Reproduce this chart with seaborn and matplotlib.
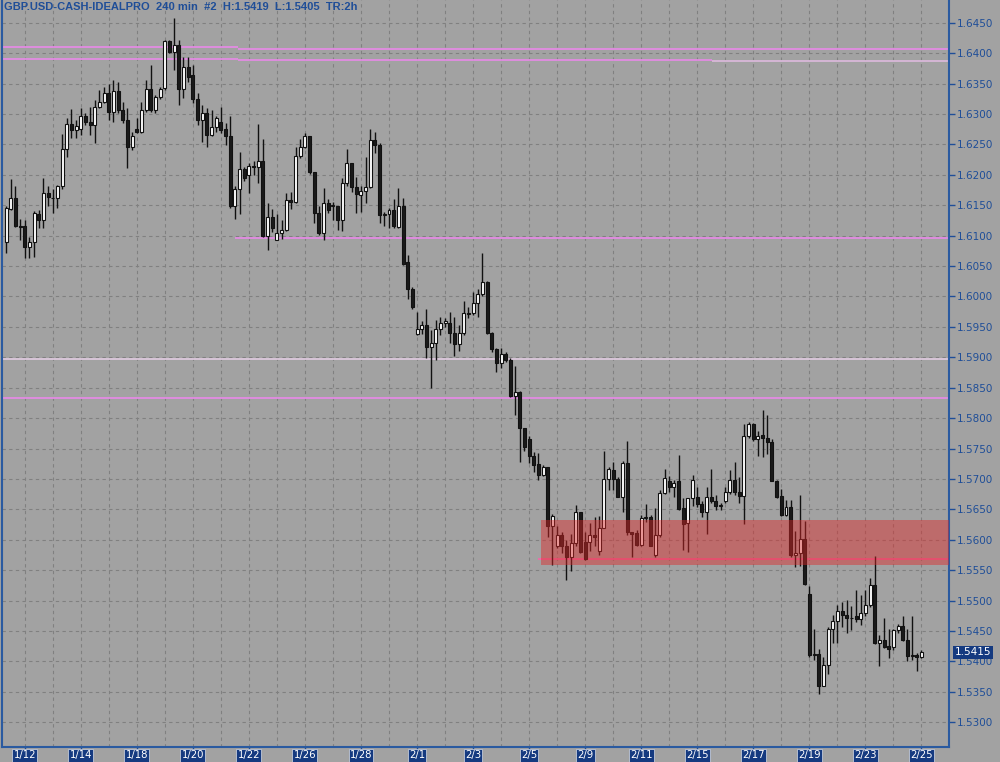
import matplotlib
matplotlib.use("Agg")
import matplotlib.pyplot as plt
import seaborn as sns
import numpy as np
import pandas as pd

# ---------------- data ----------------
opens = [1.6090,1.6144,1.6161,1.6116,1.6115,1.6082,1.6090,1.6136,1.6126,1.6170,
         1.6162,1.6161,1.6181,1.6242,1.6283,1.6274,1.6275,1.6297,1.6287,1.6281,
         1.6312,1.6320,1.6334,1.6304,1.6337,1.6307,1.6290,1.6245,1.6276,1.6271,
         1.6307,1.6341,1.6307,1.6328,1.6342,1.6420,1.6401,1.6414,1.6341,1.6377,
         1.6364,1.6324,1.6290,1.6301,1.6265,1.6278,1.6287,1.6275,1.6264,1.6149,
         1.6176,1.6209,1.6200,1.6214,1.6212,1.6223,1.6100,1.6131,1.6093,1.6104,
         1.6109,1.6158,1.6156,1.6231,1.6246,1.6264,1.6205,1.6137,1.6105,1.6153,
         1.6148,1.6148,1.6125,1.6186,1.6219,1.6180,1.6167,1.6173,1.6180,1.6257,
         1.6249,1.6134,1.6136,1.6142,1.6114,1.6148,1.6056,1.6012,1.5939,1.5946,
         1.5953,1.5917,1.5923,1.5946,1.5956,1.5956,1.5940,1.5922,1.5940,1.5972,
         1.5972,1.5990,1.6004,1.6024,1.5940,1.5913,1.5891,1.5905,1.5896,1.5836,
         1.5843,1.5783,1.5765,1.5737,1.5724,1.5707,1.5719,1.5623,1.5590,1.5608,
         1.5590,1.5572,1.5595,1.5645,1.5597,1.5597,1.5608,1.5582,1.5620,1.5700,
         1.5715,1.5700,1.5671,1.5726,1.5612,1.5611,1.5591,1.5635,1.5638,1.5575,
         1.5608,1.5677,1.5696,1.5686,1.5696,1.5652,1.5627,1.5668,1.5670,1.5659,
         1.5645,1.5670,1.5663,1.5656,1.5663,1.5679,1.5699,1.5679,1.5672,1.5771,
         1.5791,1.5765,1.5772,1.5768,1.5761,1.5697,1.5672,1.5641,1.5654,1.5575,
         1.5579,1.5601,1.5511,1.5411,1.5413,1.5360,1.5394,1.5453,1.5466,1.5483,
         1.5476,1.5471,1.5474,1.5469,1.5480,1.5493,1.5526,1.5430,1.5436,1.5425,
         1.5423,1.5451,1.5458,1.5435,1.5409,1.5411,1.5407]
highs = [1.6148,1.6193,1.6181,1.6127,1.6126,1.6098,1.6140,1.6142,1.6194,1.6181,
         1.6176,1.6183,1.6267,1.6293,1.6308,1.6290,1.6309,1.6301,1.6312,1.6323,
         1.6339,1.6344,1.6350,1.6356,1.6353,1.6320,1.6309,1.6271,1.6293,1.6319,
         1.6355,1.6381,1.6331,1.6344,1.6422,1.6422,1.6457,1.6422,1.6394,1.6394,
         1.6381,1.6334,1.6315,1.6309,1.6307,1.6296,1.6312,1.6285,1.6296,1.6181,
         1.6238,1.6213,1.6219,1.6222,1.6283,1.6258,1.6153,1.6143,1.6136,1.6125,
         1.6170,1.6172,1.6246,1.6258,1.6268,1.6264,1.6205,1.6148,1.6178,1.6160,
         1.6156,1.6149,1.6194,1.6243,1.6219,1.6197,1.6182,1.6230,1.6275,1.6271,
         1.6252,1.6139,1.6145,1.6160,1.6179,1.6161,1.6068,1.6016,1.5975,1.5960,
         1.5979,1.5945,1.5961,1.5966,1.5964,1.5974,1.5966,1.5953,1.5993,1.5983,
         1.6008,1.6013,1.6071,1.6026,1.5942,1.5916,1.5916,1.5908,1.5898,1.5886,
         1.5845,1.5783,1.5770,1.5745,1.5743,1.5723,1.5720,1.5643,1.5622,1.5612,
         1.5600,1.5610,1.5657,1.5645,1.5612,1.5628,1.5638,1.5639,1.5746,1.5720,
         1.5728,1.5703,1.5730,1.5763,1.5613,1.5616,1.5641,1.5659,1.5641,1.5653,
         1.5682,1.5716,1.5705,1.5699,1.5739,1.5668,1.5668,1.5707,1.5686,1.5663,
         1.5687,1.5717,1.5674,1.5661,1.5687,1.5714,1.5728,1.5703,1.5791,1.5794,
         1.5792,1.5779,1.5814,1.5805,1.5765,1.5698,1.5683,1.5665,1.5665,1.5615,
         1.5674,1.5631,1.5524,1.5454,1.5421,1.5408,1.5456,1.5476,1.5493,1.5497,
         1.5501,1.5491,1.5518,1.5509,1.5517,1.5537,1.5573,1.5443,1.5472,1.5453,
         1.5454,1.5462,1.5475,1.5453,1.5474,1.5414,1.5419]
lows = [1.6071,1.6142,1.6114,1.6093,1.6063,1.6063,1.6065,1.6112,1.6112,1.6148,
        1.6137,1.6146,1.6176,1.6230,1.6260,1.6260,1.6265,1.6282,1.6265,1.6252,
        1.6309,1.6318,1.6290,1.6287,1.6301,1.6285,1.6211,1.6241,1.6268,1.6268,
        1.6304,1.6304,1.6301,1.6324,1.6339,1.6400,1.6372,1.6315,1.6326,1.6353,
        1.6318,1.6282,1.6254,1.6245,1.6263,1.6271,1.6269,1.6249,1.6145,1.6127,
        1.6136,1.6189,1.6170,1.6200,1.6186,1.6098,1.6077,1.6106,1.6092,1.6095,
        1.6108,1.6143,1.6153,1.6227,1.6244,1.6202,1.6120,1.6101,1.6093,1.6137,
        1.6126,1.6110,1.6108,1.6182,1.6172,1.6137,1.6138,1.6154,1.6178,1.6236,
        1.6121,1.6115,1.6112,1.6112,1.6112,1.6052,1.5995,1.5979,1.5937,1.5939,
        1.5898,1.5849,1.5895,1.5937,1.5949,1.5923,1.5902,1.5911,1.5937,1.5964,
        1.5970,1.5967,1.6001,1.5939,1.5909,1.5876,1.5882,1.5893,1.5835,1.5805,
        1.5728,1.5746,1.5727,1.5712,1.5698,1.5704,1.5605,1.5558,1.5586,1.5578,
        1.5534,1.5548,1.5589,1.5579,1.5567,1.5582,1.5589,1.5575,1.5619,1.5682,
        1.5682,1.5670,1.5646,1.5608,1.5572,1.5589,1.5589,1.5630,1.5589,1.5572,
        1.5605,1.5675,1.5679,1.5671,1.5649,1.5583,1.5580,1.5655,1.5654,1.5638,
        1.5610,1.5661,1.5649,1.5649,1.5660,1.5676,1.5674,1.5660,1.5626,1.5768,
        1.5763,1.5737,1.5736,1.5741,1.5696,1.5668,1.5639,1.5639,1.5572,1.5556,
        1.5557,1.5526,1.5408,1.5403,1.5346,1.5359,1.5380,1.5430,1.5431,1.5456,
        1.5447,1.5452,1.5465,1.5460,1.5475,1.5490,1.5429,1.5393,1.5422,1.5405,
        1.5419,1.5446,1.5434,1.5401,1.5402,1.5385,1.5405]
closes = [1.6145,1.6161,1.6116,1.6114,1.6082,1.6090,1.6137,1.6126,1.6170,1.6163,
          1.6161,1.6181,1.6242,1.6283,1.6274,1.6280,1.6297,1.6287,1.6281,1.6312,
          1.6320,1.6335,1.6304,1.6337,1.6307,1.6290,1.6245,1.6264,1.6271,1.6307,
          1.6341,1.6307,1.6328,1.6341,1.6420,1.6401,1.6414,1.6341,1.6377,1.6361,
          1.6324,1.6290,1.6301,1.6265,1.6278,1.6293,1.6274,1.6264,1.6149,1.6176,
          1.6209,1.6195,1.6214,1.6213,1.6223,1.6100,1.6131,1.6112,1.6104,1.6109,
          1.6158,1.6156,1.6231,1.6246,1.6264,1.6205,1.6137,1.6105,1.6153,1.6142,
          1.6150,1.6125,1.6186,1.6219,1.6180,1.6168,1.6173,1.6180,1.6257,1.6249,
          1.6134,1.6136,1.6142,1.6115,1.6148,1.6054,1.6012,1.5983,1.5947,1.5953,
          1.5917,1.5924,1.5947,1.5956,1.5959,1.5940,1.5922,1.5940,1.5972,1.5971,
          1.5990,1.6004,1.6024,1.5940,1.5913,1.5891,1.5905,1.5896,1.5836,1.5843,
          1.5783,1.5753,1.5737,1.5723,1.5707,1.5719,1.5623,1.5639,1.5608,1.5590,
          1.5572,1.5595,1.5645,1.5580,1.5568,1.5608,1.5605,1.5620,1.5700,1.5717,
          1.5700,1.5671,1.5726,1.5612,1.5609,1.5591,1.5635,1.5638,1.5590,1.5608,
          1.5677,1.5701,1.5686,1.5694,1.5650,1.5626,1.5668,1.5699,1.5659,1.5645,
          1.5671,1.5663,1.5656,1.5657,1.5679,1.5699,1.5679,1.5672,1.5771,1.5791,
          1.5765,1.5771,1.5768,1.5761,1.5697,1.5671,1.5641,1.5654,1.5575,1.5579,
          1.5601,1.5527,1.5411,1.5412,1.5360,1.5394,1.5453,1.5466,1.5483,1.5476,
          1.5471,1.5472,1.5469,1.5480,1.5493,1.5526,1.5430,1.5436,1.5424,1.5420,
          1.5451,1.5458,1.5435,1.5409,1.5410,1.5407,1.5415]

date_labels = ["1/12", "1/14", "1/18", "1/20", "1/22", "1/26", "1/28", "2/1", "2/3",
               "2/5", "2/9", "2/11", "2/15", "2/17", "2/19", "2/23", "2/25"]
price_ticks = [1.5300, 1.5350, 1.5400, 1.5450, 1.5500, 1.5550, 1.5600, 1.5650,
               1.5700, 1.5750, 1.5800, 1.5850, 1.5900, 1.5950, 1.6000, 1.6050,
               1.6100, 1.6150, 1.6200, 1.6250, 1.6300, 1.6350, 1.6400, 1.6450]

# horizontal level lines: (price, start bar, end bar)
level_prices = [1.6410, 1.6407, 1.6406, 1.6391, 1.6389, 1.6387, 1.6096, 1.5897, 1.5833, 1.5569]
level_starts = [-1, 49.7, 151.2, -1, 49.7, 151.2, 49, -1, -1, 114]
level_ends   = [49.7, 151.2, 203, 49.7, 151.2, 203, 203, 203, 203, 203]
level_colors = ["#e38be3", "#e38be3", "#e38be3", "#e38be3", "#e38be3", "#d9b8d9",
                "#e38be3", "#dcc8dc", "#e38be3", "#f06aa8"]

zone_start, zone_low, zone_high = 115, 1.5558, 1.5632
last_price = 1.5415
title = "GBP.USD-CASH-IDEALPRO  240 min  #2  H:1.5419  L:1.5405  TR:2h"

# ---------------- drawing ----------------
BG = "#a2a2a2"
BLUE = "#1f4e98"
sns.set_theme(style="dark", rc={"axes.facecolor": BG, "figure.facecolor": BG})
plt.rcParams["font.family"] = ["DejaVu Sans"]

df = pd.DataFrame({"open": opens, "high": highs, "low": lows, "close": closes})
df["bar"] = np.arange(len(df))
df["up"] = df["close"] >= df["open"]
df["bottom"] = df[["open", "close"]].min(axis=1)
df["height"] = (df["close"] - df["open"]).abs().clip(lower=0.00006)

fig = plt.figure(figsize=(10, 7.62), dpi=100)
ax = fig.add_axes([0.002, 0.0203, 0.947, 0.9797])
ax.set_facecolor(BG)
xmin, xmax = -0.86, 201.9
ymin, ymax = 1.52601, 1.64873
ax.set_xlim(xmin, xmax)
ax.set_ylim(ymin, ymax)

# grid
for p in price_ticks:
    ax.axhline(p, color="#808080", lw=0.8, ls=(0, (3, 3)), zorder=0)
label_bars = [4 + 12 * k for k in range(len(date_labels))]
for b in range(4, len(df) + 6, 6):
    ax.axvline(b, color="#808080", lw=0.8, ls=(0, (3, 3)), zorder=0)

# level lines
for p, s, e, c in zip(level_prices, level_starts, level_ends, level_colors):
    ax.hlines(p, s, e, color=c, lw=1.3, zorder=1)

# candles
ax.vlines(df["bar"], df["low"], df["high"], color="#111111", lw=1.0, zorder=2)
ax.bar(df["bar"], df["height"], bottom=df["bottom"], width=0.64,
       color=np.where(df["up"], "#ffffff", "#1a1a1a"), edgecolor="#111111",
       linewidth=0.8, zorder=3)

# red zone overlay
ax.fill_between([zone_start - 0.5, xmax], zone_low, zone_high,
                color="#e02828", alpha=0.45, lw=0, zorder=4)

# spines
ax.spines["top"].set_visible(False)
for s in ["left", "right", "bottom"]:
    ax.spines[s].set_visible(True)
    ax.spines[s].set_color("#2a5aa0")
    ax.spines[s].set_linewidth(1.5)

# y axis on the right
ax.yaxis.tick_right()
ax.set_yticks(price_ticks)
ax.set_yticklabels([f"{p:.4f}" for p in price_ticks])
ax.tick_params(axis="y", which="both", right=True, left=False, length=4, width=1,
               color=BLUE, labelcolor=BLUE, labelsize=7.5, pad=1.5)

# x axis labels in boxes
ax.set_xticks(label_bars)
ax.set_xticklabels(date_labels)
ax.tick_params(axis="x", bottom=True, length=2, width=1, color=BLUE,
               labelsize=7.3, labelcolor="white", pad=0.8)
for t in ax.get_xticklabels():
    t.set_bbox(dict(boxstyle="square,pad=0.12", fc="#153a80", ec="#c0c8d8", lw=0.6))

# last price box
ax.annotate(f"{last_price:.4f}", xy=(1.0, last_price), xycoords=("axes fraction", "data"),
            xytext=(4, 0), textcoords="offset points", va="center", ha="left",
            fontsize=7.5, color="white", annotation_clip=False,
            bbox=dict(boxstyle="square,pad=0.15", fc="#153a80", ec="none"))

# title
ax.text(0.002, 0.9975, title, transform=ax.transAxes, ha="left", va="top",
        fontsize=8, color=BLUE, fontweight="bold", family=["Liberation Sans"])

fig.savefig("out.png", dpi=100, facecolor=BG)
